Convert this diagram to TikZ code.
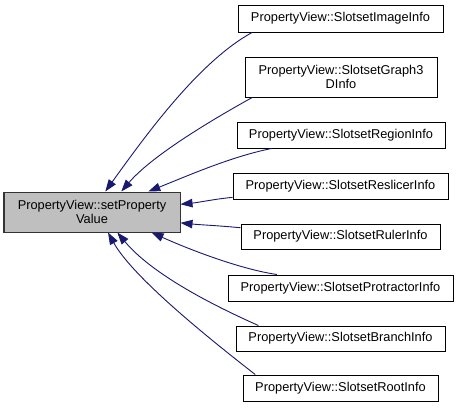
\documentclass[tikz,border=0pt]{standalone}
\usepackage{fontspec}
\setmainfont{Liberation Sans}
\usetikzlibrary{arrows.meta}
\definecolor{edgeblue}{HTML}{191970}
\definecolor{mainfill}{HTML}{BFBFBF}
\begin{document}
\begin{tikzpicture}[x=1pt,y=-1pt,
  box/.style={draw=black, line width=1pt, fill=white, inner sep=0pt, align=center, font=\fontsize{12.8}{13.5}\selectfont},
  mainbox/.style={box, fill=mainfill, draw=black!80},
  edge/.style={draw=edgeblue, line width=0.9pt, -{Triangle[length=12pt,width=8.5pt]}}]
\useasboundingbox (0,0) rectangle (459,408);
\fill[white] (0,0) rectangle (459,408);
\node[mainbox, minimum width=176pt, minimum height=40pt] (main) at (92,212) {PropertyView::setProperty\\Value};
\node[box, minimum width=205pt, minimum height=27pt] (n1) at (340.5,18.5) {PropertyView::SlotsetImageInfo};
\node[box, minimum width=192pt, minimum height=40pt] (n2) at (341,77) {PropertyView::SlotsetGraph3\\DInfo};
\node[box, minimum width=208pt, minimum height=26pt] (n3) at (341,135) {PropertyView::SlotsetRegionInfo};
\node[box, minimum width=215pt, minimum height=26pt] (n4) at (340.5,186) {PropertyView::SlotsetReslicerInfo};
\node[box, minimum width=199pt, minimum height=25pt] (n5) at (340.5,236.5) {PropertyView::SlotsetRulerInfo};
\node[box, minimum width=225pt, minimum height=26pt] (n6) at (340.5,288) {PropertyView::SlotsetProtractorInfo};
\node[box, minimum width=209pt, minimum height=25pt] (n7) at (340.5,338.5) {PropertyView::SlotsetBranchInfo};
\node[box, minimum width=195pt, minimum height=26pt] (n8) at (340.5,388) {PropertyView::SlotsetRootInfo};
\draw[edge] (n1.189) .. controls +(-53,29) and +(41,-57) .. (main.57);
\draw[edge] (n2.193.5) .. controls +(-45,25) and +(30,-35) .. (main.35.5);
\draw[edge] (n3.191.5) .. controls +(-40,8) and +(40,-16) .. (main.20);
\draw[edge] (n4.186) .. controls +(-20,2) and +(20,-2) .. (main.5);
\draw[edge] (n5.175) .. controls +(-20,-2) and +(20,2) .. (main.353.5);
\draw[edge] (n6.168.8) .. controls +(-35,-5) and +(40,18) .. (main.341.6);
\draw[edge] (n7.171.4) .. controls +(-45,-20) and +(35,42) .. (main.321.3);
\draw[edge] (n8.171.4) .. controls +(-45,-35) and +(25,45) .. (main.308.7);
\end{tikzpicture}
\end{document}
